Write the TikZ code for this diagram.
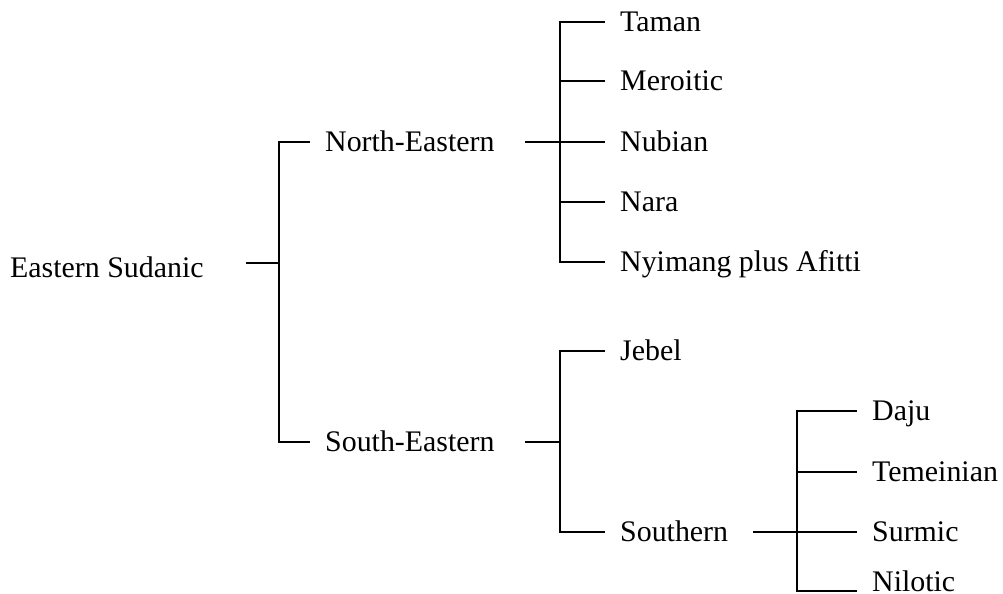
\documentclass[tikz,border=0pt]{standalone}
\usepackage{fontspec}
\setmainfont{Liberation Serif}
\begin{document}
\begin{tikzpicture}[x=1bp,y=-1bp,
  lbl/.style={anchor=west,inner xsep=15bp,inner ysep=0pt,text height=19.9bp,text depth=0pt,
    font=\fontsize{30}{36}\selectfont},
  conn/.style={line width=2bp}]
\useasboundingbox (0,0) rectangle (1003,594);
% labels
\node[lbl] (es) at (-5,268) {Eastern Sudanic};
\node[lbl] (ne) at (310,142) {North-Eastern};
\node[lbl] (se) at (310,442) {South-Eastern};
\node[lbl] (taman) at (605,22) {Taman};
\node[lbl] (mero) at (605,81) {Meroitic};
\node[lbl] (nubian) at (605,142) {Nubian};
\node[lbl] (nara) at (605,202) {Nara};
\node[lbl] (nyim) at (605,262) {Nyimang plus Afitti};
\node[lbl] (jebel) at (605,351) {Jebel};
\node[lbl] (south) at (605,532) {Southern};
\node[lbl] (daju) at (857,411) {Daju};
\node[lbl] (temei) at (857,472) {Temeinian};
\node[lbl] (surmic) at (857,532) {Surmic};
\node[lbl] (nilo) at (857,582) {Nilotic};
% junctions
\coordinate (esS) at (246,263);
\coordinate (esJ) at (279,263);
\coordinate (neS) at (525,142);
\coordinate (neJ) at (560,142);
\coordinate (seS) at (525,442);
\coordinate (seJ) at (560,442);
\coordinate (soS) at (753,532);
\coordinate (soJ) at (797,532);
% connectors
\draw[conn] (esS) -- (esJ);
\draw[conn] (ne.west) -| (esJ) |- (se.west);
\draw[conn] (neS) -- (neJ);
\draw[conn] (taman.west) -| (neJ) |- (nyim.west);
\draw[conn] (mero.west) -- (mero.west -| neJ);
\draw[conn] (nubian.west) -- (neJ);
\draw[conn] (nara.west) -- (nara.west -| neJ);
\draw[conn] (seS) -- (seJ);
\draw[conn] (jebel.west) -| (seJ) |- (south.west);
\draw[conn] (soS) -- (soJ);
\draw[conn] (daju.west) -| (soJ) |- ([yshift=-9bp]nilo.west);
\draw[conn] (temei.west) -- (temei.west -| soJ);
\draw[conn] (surmic.west) -- (soJ);
\end{tikzpicture}
\end{document}
